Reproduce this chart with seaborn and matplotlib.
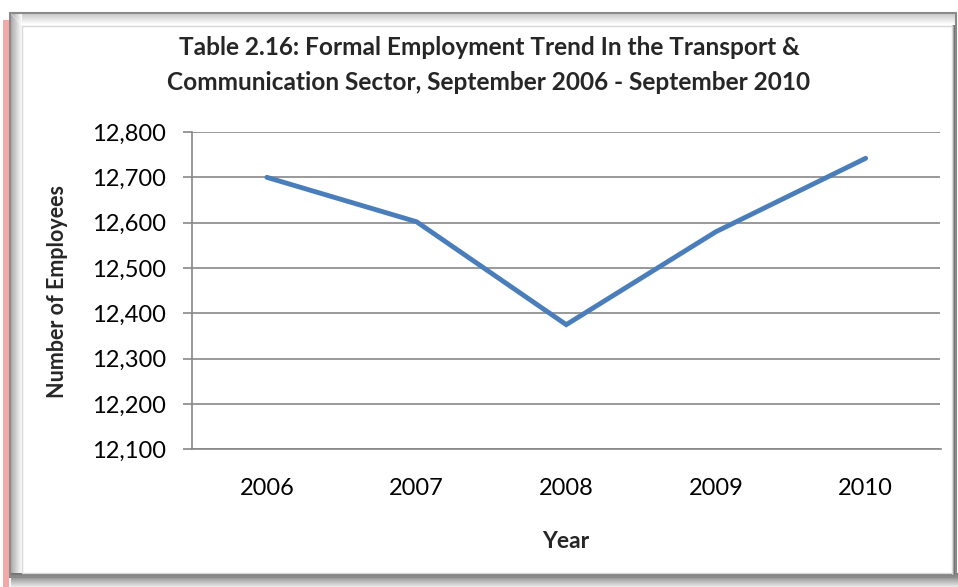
import numpy as np
import pandas as pd
import matplotlib
matplotlib.use('Agg')
import matplotlib.pyplot as plt
from matplotlib.patches import Rectangle
from matplotlib.ticker import FuncFormatter
import seaborn as sns

# data
years = ['2006', '2007', '2008', '2009', '2010']
employees = [12700, 12602, 12375, 12580, 12742]
y_ticks = [12100, 12200, 12300, 12400, 12500, 12600, 12700, 12800]

title = ('Table 2.16: Formal Employment Trend In the Transport &\n'
         'Communication Sector, September 2006 - September 2010')
x_label = 'Year'
y_label = 'Number of Employees'

W, H = 958, 587
LINE_COLOR = '#4a7ebb'
GRID_COLOR = '#878787'


def fx(px):
    return px / W


def fy(py):
    return 1 - py / H


def add_rect(fig, x0, y0, x1, y1, **kw):
    # pixel box (top-left origin) -> figure fraction rectangle
    fig.patches.append(Rectangle((fx(x0), fy(y1)), fx(x1) - fx(x0), fy(y0) - fy(y1),
                                 transform=fig.transFigure, **kw))


def draw_frame(fig):
    # pink strip on the far left (page edge)
    add_rect(fig, 3, 20, 9, 587, color='#f6a8a8', lw=0, zorder=0)
    # bevel: light on left/top, darker shadow on bottom/right
    for i in range(11):
        shade = min(1.0, 0.68 + 0.03 * i)
        add_rect(fig, 11 + i, 14, 12 + i, 578, color=(shade,) * 3, lw=0, zorder=0)
        shade = min(1.0, 0.8 + 0.02 * i)
        add_rect(fig, 11 + i, 14 + i, 956, 15 + i, color=(shade,) * 3, lw=0, zorder=0)
    for i in range(14):
        shade = 0.45 + 0.035 * i
        add_rect(fig, 11, 573 + i, 958, 574 + i, color=(shade,) * 3, lw=0, zorder=0)
    for i in range(4):
        shade = 0.3 + 0.15 * i
        add_rect(fig, 955 - i, 25, 956 - i, 575, color=(shade,) * 3, lw=0, zorder=0)
    # outer border
    add_rect(fig, 10, 13, 956, 577, fill=False, edgecolor='#8a8a8a', lw=1.5, zorder=1)
    # inner white panel
    add_rect(fig, 22, 26, 952, 573, facecolor='white', edgecolor='#d8d8d8', lw=1, zorder=1)


def main():
    sns.set_style('white')
    plt.rcParams['font.family'] = ['Lato', 'DejaVu Sans']

    fig = plt.figure(figsize=(W / 100, H / 100), dpi=100)
    draw_frame(fig)

    ax = fig.add_axes([fx(192), fy(449.3), fx(940.5) - fx(192), fy(132) - fy(449.3)])
    ax.set_facecolor('none')
    ax.set_zorder(5)

    df = pd.DataFrame({'Year': years, 'Employees': employees})
    sns.lineplot(data=df, x='Year', y='Employees', ax=ax, color=LINE_COLOR,
                 linewidth=3.5, solid_capstyle='round', solid_joinstyle='miter', zorder=3)

    ax.set_xlim(-0.5, len(years) - 0.5)
    ax.set_ylim(y_ticks[0], y_ticks[-1])
    ax.set_yticks(y_ticks)
    ax.yaxis.set_major_formatter(FuncFormatter(lambda v, p: f'{int(v):,}'))
    ax.yaxis.grid(True, color=GRID_COLOR, lw=1.2)
    ax.xaxis.grid(False)
    ax.set_axisbelow(True)

    for s in ['top', 'right']:
        ax.spines[s].set_visible(False)
    for s in ['left', 'bottom']:
        ax.spines[s].set_color(GRID_COLOR)
        ax.spines[s].set_linewidth(1.2)

    ax.tick_params(axis='y', length=6.5, width=1.2, color=GRID_COLOR, direction='out',
                   pad=12, labelsize=17, labelcolor='black', left=True)
    ax.tick_params(axis='x', length=0, pad=21, labelsize=17, labelcolor='black')
    ax.set_xlabel('')
    ax.set_ylabel('')

    txt = dict(ha='center', va='center', fontweight='bold', zorder=6)
    fig.text(fx(489), fy(65), title, fontsize=17.6, linespacing=1.58, **txt)
    fig.text(fx(566), fy(542), x_label, fontsize=16.5, **txt)
    fig.text(fx(58), fy(292), y_label, fontsize=15.5, rotation=90, **txt)

    fig.savefig('out.png', dpi=100, facecolor='white')
    plt.close(fig)


if __name__ == '__main__':
    main()
